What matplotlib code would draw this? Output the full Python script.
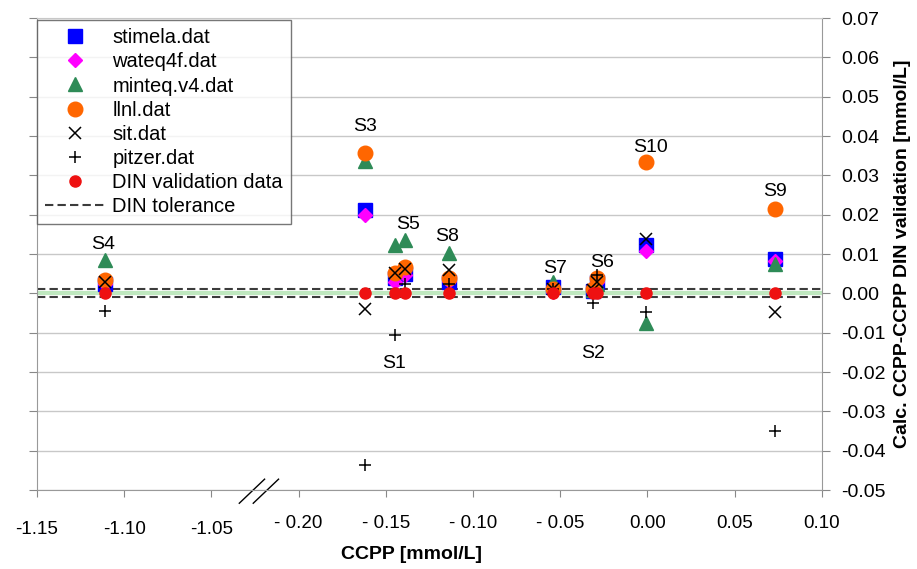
import numpy as np
import matplotlib
matplotlib.use("Agg")
import matplotlib.pyplot as plt
import matplotlib.transforms as mtransforms

plt.rcParams['font.family'] = ['Liberation Sans', 'DejaVu Sans']

# sample names and DIN reference CCPP [mmol/L]
samples = ['S1', 'S2', 'S3', 'S4', 'S5', 'S6', 'S7', 'S8', 'S9', 'S10']
ccpp_din = [-0.145, -0.031, -0.162, -1.111, -0.139, -0.029, -0.054, -0.114, 0.073, -0.001]

# calculated CCPP minus DIN CCPP per database [mmol/L]
stimela = [0.0038, 0.0005, 0.0213, 0.0025, 0.0050, 0.0030, 0.0015, 0.0030, 0.0088, 0.0122]
wateq4f = [0.0030, 0.0005, 0.0200, 0.0025, 0.0047, 0.0028, 0.0003, 0.0031, 0.0082, 0.0108]
minteq = [0.0123, 0.0008, 0.0337, 0.0085, 0.0136, 0.0025, 0.0030, 0.0102, 0.0074, -0.0075]
llnl = [0.0053, 0.0010, 0.0356, 0.0034, 0.0066, 0.0038, 0.0012, 0.0038, 0.0215, 0.0335]
sit = [0.0052, 0.0008, -0.0040, 0.0030, 0.0062, 0.0030, 0.0010, 0.0059, -0.0048, 0.0138]
pitzer = [-0.0105, -0.0025, -0.0437, -0.0045, 0.0025, 0.0047, 0.0010, 0.0025, -0.0350, -0.0047]
din = [0.0] * 10
din_tol = 0.001

# where the sample names sit (data coords)
label_pos = [(-0.145, -0.0178), (-0.031, -0.0153), (-0.162, 0.0425), (-1.112, 0.0125),
             (-0.137, 0.0174), (-0.026, 0.0079), (-0.053, 0.0064), (-0.115, 0.0145),
             (0.073, 0.0260), (0.002, 0.0371)]

xticks_real = [-1.15, -1.10, -1.05, -0.20, -0.15, -0.10, -0.05, 0.00, 0.05, 0.10]
xtick_labels = ['-1.15', '-1.10', '-1.05', '- 0.20', '- 0.15', '- 0.10', '- 0.05', '0.00', '0.05', '0.10']


def brk(x):
    # squeeze the gap between -1.05 and -0.20 out of the axis
    x = np.asarray(x, dtype=float)
    return np.where(x < -0.5, x + 0.8, x)


fig = plt.figure(figsize=(9.17, 5.69), dpi=100)
ax = fig.add_axes([0.0403, 0.1388, 0.856, 0.8295])

ax.axhline(0, color='#bfe8bf', lw=3, zorder=1)
ax.axhline(din_tol, color='#3c3c3c', lw=1.5, ls=(0, (4, 2)), zorder=2)
ax.axhline(-din_tol, color='#3c3c3c', lw=1.5, ls=(0, (4, 2)), zorder=2)

x = brk(ccpp_din)
ax.plot(x, stimela, 's', color='#0000ff', ms=9.5, ls='none', label='stimela.dat', zorder=3)
ax.plot(x, wateq4f, 'D', color='#ff00ff', ms=7.5, ls='none', label='wateq4f.dat', zorder=3)
ax.plot(x, minteq, '^', color='#2e8b57', ms=10.5, ls='none', label='minteq.v4.dat', zorder=3)
ax.plot(x, llnl, 'o', color='#ff6600', ms=10.5, ls='none', label='llnl.dat', zorder=3)
ax.plot(x, sit, 'x', color='black', ms=9, mew=1.1, ls='none', label='sit.dat', zorder=3)
ax.plot(x, pitzer, '+', color='black', ms=9, mew=1.1, ls='none', label='pitzer.dat', zorder=3)
ax.plot(x, din, 'o', color='#ee1111', ms=8, ls='none', label='DIN validation data', zorder=4)
ax.plot([], [], color='#3c3c3c', lw=1.5, ls=(0, (4, 2)), label='DIN tolerance')

for name, (lx, ly) in zip(samples, label_pos):
    ax.text(float(brk(lx)), ly, name, fontsize=14, ha='center', va='center', zorder=5)

ax.set_xlim(float(brk(-1.15)), 0.10)
ax.set_ylim(-0.05, 0.07)
ax.set_xticks(brk(xticks_real))
ax.set_xticklabels(xtick_labels, fontsize=13.5)
ax.set_yticks(np.arange(-0.05, 0.0701, 0.01))
ax.yaxis.set_major_formatter(matplotlib.ticker.FormatStrFormatter('%.2f'))
ax.yaxis.tick_right()
ax.yaxis.set_label_position('right')
ax.tick_params(axis='y', which='both', left=True, right=True, labelleft=False,
               labelright=True, labelsize=14, length=6, color='#888888', pad=8)
ax.tick_params(axis='x', length=5, color='#888888', pad=13)
# left segment labels sit a little lower than the right ones
for lbl in ax.get_xticklabels()[:3]:
    lbl.set_transform(lbl.get_transform() +
                      mtransforms.ScaledTranslation(0, -4 / 72, fig.dpi_scale_trans))
ax.grid(axis='y', color='#c8c8c8', lw=1)
ax.set_axisbelow(True)
for s in ax.spines.values():
    s.set_color('#999999')
ax.spines['top'].set_color('#c8c8c8')

ax.set_xlabel('CCPP [mmol/L]', fontsize=14, fontweight='bold')
ax.xaxis.set_label_coords(0.477, -0.118)
ax.set_ylabel('Calc. CCPP-CCPP DIN validation [mmol/L]', fontsize=14, fontweight='bold', labelpad=6)

# axis break marks
tr = mtransforms.blended_transform_factory(ax.transData, ax.transAxes)
for x0 in (-0.234, -0.226):
    ax.plot([x0, x0 + 0.0145], [-0.028, 0.023], color='black', lw=1, transform=tr, clip_on=False)

leg = ax.legend(loc='upper left', bbox_to_anchor=(0.0, 0.995), fontsize=14.5, frameon=True,
                fancybox=False, edgecolor='#555555', handlelength=3.0, handletextpad=0.35,
                labelspacing=0.25, borderpad=0.4, borderaxespad=0.0, numpoints=1)
leg.get_frame().set_linewidth(1)

fig.savefig('out.png', dpi=100)
